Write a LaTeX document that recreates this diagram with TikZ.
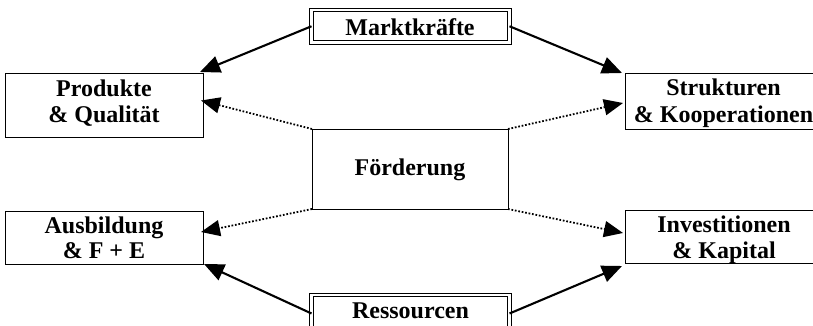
\documentclass[tikz,border=0pt]{standalone}
\usepackage{fontspec}
\setmainfont{Liberation Serif}
\usetikzlibrary{arrows.meta}
\begin{document}
\begin{tikzpicture}[x=1pt,y=-1pt,
  box/.style={draw, line width=1pt, inner sep=0pt, outer sep=0pt, minimum width=198pt},
  dbox/.style={draw, line width=1pt, double, double distance=2.2pt, inner sep=0pt, outer sep=0pt, minimum width=198pt},
  lbl/.style={anchor=base, inner sep=0pt, font=\bfseries\fontsize{24}{27}\selectfont},
  solidarr/.style={line width=2.1pt, -{Triangle[length=20pt,width=17pt]}},
  dotarr/.style={line width=1.8pt, dash pattern=on 1.7pt off 1.8pt, -{Triangle[length=19pt,width=16pt]}}
]
\fill[white] (0,0) rectangle (813,326);
\useasboundingbox (0,0) rectangle (813,326);
\clip (0,0) rectangle (813,326);

% boxes
\node[dbox, minimum height=32.5pt] (markt) at (410.5,26.25) {};
\node[dbox, minimum height=37pt] (ress) at (410.5,313.5) {};
\node[box, minimum width=196pt, minimum height=80pt] (fo) at (410,169) {};
\node[box, minimum height=63pt] (prod) at (104,105.5) {};
\node[box, minimum height=55pt] (struk) at (724,101.5) {};
\node[box, minimum height=53pt] (ausb) at (104,237.5) {};
\node[box, minimum height=53pt] (inv) at (724,236.5) {};

% labels
\node[lbl] (marktT) at (410,36) {Marktkräfte};
\node[lbl] (ressT) at (410.5,318) {Ressourcen};
\node[lbl] (foT) at (410,175) {Förderung};
\node[lbl] (prodA) at (104,96.7) {Produkte};
\node[lbl] (prodB) at (104,123) {\& Qualität};
\node[lbl] (strukA) at (723.5,96) {Strukturen};
\node[lbl] (strukB) at (723.5,122.7) {\& Kooperationen};
\node[lbl] (ausbA) at (104,233) {Ausbildung};
\node[lbl] (ausbB) at (104,258) {\& F + E};
\node[lbl] (invA) at (724,232.7) {Investitionen};
\node[lbl] (invB) at (724,258) {\& Kapital};

% solid arrows
\draw[solidarr] (markt.west) -- ([shift={(-3,-2)}]prod.north east);
\draw[solidarr] (markt.east) -- ([shift={(-3,-1)}]struk.north west);
\draw[solidarr] (ress.west) -- ([shift={(1,0)}]ausb.south east);
\draw[solidarr] (ress.east) -- ([shift={(-3,3)}]inv.south west);

% dotted arrows
\draw[dotarr] (fo.north west) -- ([shift={(-2,-5)}]prod.east);
\draw[dotarr] (fo.north east) -- ([shift={(-2,1.5)}]struk.west);
\draw[dotarr] (fo.south west) -- ([shift={(-2,-5.5)}]ausb.east);
\draw[dotarr] (fo.south east) -- ([shift={(-2,-3.5)}]inv.west);
\end{tikzpicture}
\end{document}
